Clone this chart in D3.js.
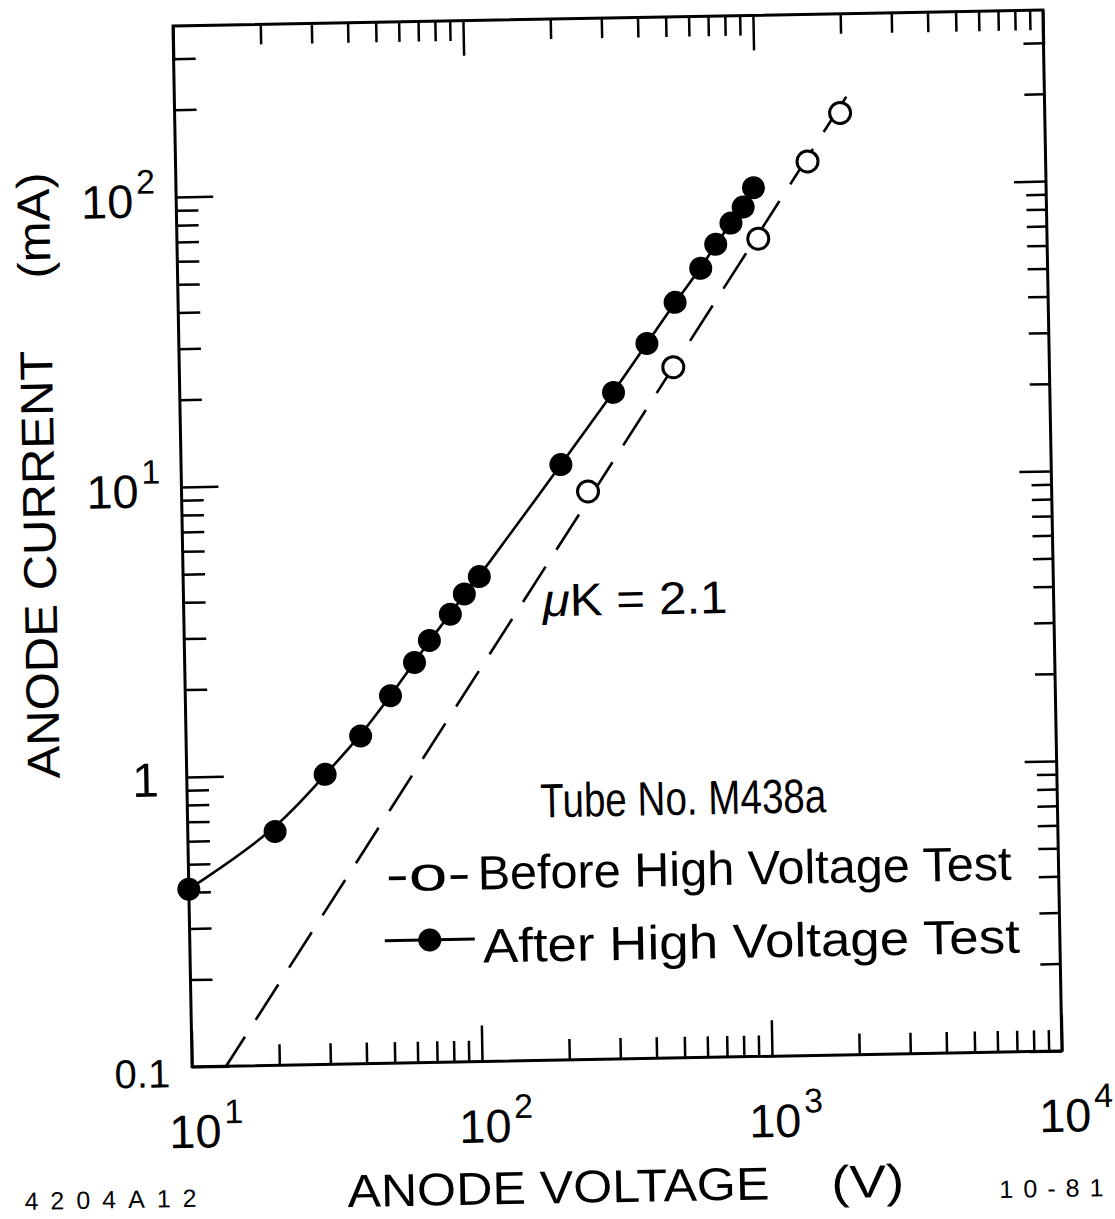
<!DOCTYPE html>
<html><head><meta charset="utf-8">
<script src="https://cdn.jsdelivr.net/npm/d3@7"></script>
<style>body{margin:0;background:#fff}</style>
</head><body>
<svg id="chart" width="1115" height="1219"></svg>
<script>
// ---- data ----
const afterVoltage = [10, 20, 30, 40, 51, 62, 70, 83, 93, 105, 204, 313, 411, 517, 637, 720, 815, 900, 980];
const afterCurrent = [0.41, 0.64, 1.0, 1.35, 1.85, 2.4, 2.85, 3.5, 4.1, 4.7, 11.3, 19.9, 29.2, 40.3, 52.6, 63.5, 75, 85, 99];
const beforeVoltage = [252, 505, 1010, 1510, 1970];
const beforeCurrent = [9.1, 24.1, 66, 121, 177];
const fitVoltage = [13.1, 2260];   // dashed line (muK = 2.1) end points
const fitCurrent = [0.1, 229];
const xDomain = [10, 10000];
const yDomain = [0.1, 389];
const xLabelValues = [10, 100, 1000, 10000];
const xLabelExponents = ["1", "2", "3", "4"];
const yLabelValues = [0.1, 1, 10, 100];
const yLabelBases = ["0.1", "1", "10", "10"];
const yLabelExponents = ["", "", "1", "2"];

const FONT = "'Liberation Sans', Arial, sans-serif";
const svg = d3.select("#chart");
const W = 870, H = 1041;
const g = svg.append("g").attr("transform", "translate(173,26) rotate(-1.05)");
const x = d3.scaleLog().domain(xDomain).range([0, W]);
const y = d3.scaleLog().domain(yDomain).range([H, 0]);

const isMajor = t => Math.abs(Math.log10(t) - Math.round(Math.log10(t))) < 1e-6;
const xt = x.ticks(), yt = y.ticks();
const xMajor = xt.filter(isMajor), xMinor = xt.filter(t => !isMajor(t));
const yMajor = yt.filter(isMajor), yMinor = yt.filter(t => !isMajor(t));

// ---- dashed fit line ----
const fit = fitVoltage.map((v, i) => [v, fitCurrent[i]]);
g.append("path").datum(fit)
  .attr("d", d3.line().x(d => x(d[0])).y(d => y(d[1])))
  .attr("fill", "none").attr("stroke", "#000").attr("stroke-width", 2.6)
  .attr("stroke-dasharray", "42,20").attr("stroke-dashoffset", 7);

// ---- solid curve through "after" points ----
const after = afterVoltage.map((v, i) => [v, afterCurrent[i]]);
g.append("path").datum(after)
  .attr("d", d3.line().x(d => x(d[0])).y(d => y(d[1])).curve(d3.curveBasis))
  .attr("fill", "none").attr("stroke", "#000").attr("stroke-width", 2.6);

// ---- open circles (before) ----
const before = beforeVoltage.map((v, i) => [v, beforeCurrent[i]]);
g.selectAll(".open").data(before).enter().append("circle")
  .attr("cx", d => x(d[0])).attr("cy", d => y(d[1])).attr("r", 10.5)
  .attr("fill", "#fff").attr("stroke", "#000").attr("stroke-width", 3);

// ---- filled circles (after) ----
g.selectAll(".filled").data(after).enter().append("circle")
  .attr("cx", d => x(d[0])).attr("cy", d => y(d[1])).attr("r", 11.5)
  .attr("fill", "#000");

// ---- frame and ticks ----
g.append("rect").attr("x", 0).attr("y", 0).attr("width", W).attr("height", H)
  .attr("fill", "none").attr("stroke", "#000").attr("stroke-width", 3);

function addAxis(axisFn, scale, vals, size, transform) {
  const a = g.append("g").attr("transform", transform)
    .call(axisFn(scale).tickValues(vals).tickSize(-size).tickFormat(""));
  a.select(".domain").remove();
  a.selectAll("text").remove();
  a.selectAll("line").attr("stroke", "#000").attr("stroke-width", 2.5);
}
addAxis(d3.axisBottom, x, xMinor, 21, `translate(0,${H})`);
addAxis(d3.axisBottom, x, xMajor, 36, `translate(0,${H})`);
addAxis(d3.axisTop, x, xMinor, 20, "translate(0,0)");
addAxis(d3.axisTop, x, xMajor, 35, "translate(0,0)");
addAxis(d3.axisLeft, y, yMinor, 22, "translate(0,0)");
addAxis(d3.axisLeft, y, yMajor, 37, "translate(0,0)");
addAxis(d3.axisRight, y, yMinor, 20, `translate(${W},0)`);
addAxis(d3.axisRight, y, yMajor, 32, `translate(${W},0)`);

function txt(str, px, py, size, opts = {}) {
  const t = g.append("text").attr("x", px).attr("y", py)
    .attr("font-family", FONT).attr("font-size", size).attr("fill", "#000")
    .attr("text-anchor", opts.anchor || "start").text(str);
  if (opts.len) t.attr("textLength", opts.len).attr("lengthAdjust", "spacingAndGlyphs");
  if (opts.spacing) t.attr("letter-spacing", opts.spacing);
  if (opts.transform) t.attr("transform", opts.transform);
  return t;
}
// power-of-ten label as ONE text element: base "10" + raised exponent
function powLabel(px, py, exp, anchor) {
  const t = g.append("text").attr("x", px).attr("y", py)
    .attr("font-family", FONT).attr("font-size", 47).attr("fill", "#000")
    .attr("text-anchor", anchor);
  t.append("tspan").text("10");
  t.append("tspan").attr("dx", 3).attr("dy", -24).attr("font-size", 34).text(exp);
  return t;
}

// ---- x tick labels ----
xLabelValues.forEach((v, i) => {
  powLabel(x(v) - 24, H + 81, xLabelExponents[i], "start");
});

// ---- y tick labels ----
yLabelValues.forEach((v, i) => {
  const Y = y(v);
  if (yLabelExponents[i]) {
    powLabel(-21, Y + 20, yLabelExponents[i], "end");
  } else if (yLabelBases[i] === "1") {
    txt("1", -28, Y + 19, 48, { anchor: "end" });
  } else {
    txt(yLabelBases[i], -22, Y + 20, 40, { anchor: "end" });
  }
});

// ---- axis titles ----
txt("ANODE VOLTAGE", 153, 1184, 46, { len: 422 });
txt("(V)", 637, 1184, 46, { len: 73 });
txt("ANODE CURRENT", 0, 0, 46, { anchor: "middle", len: 428, transform: "translate(-127,536) rotate(-90)" });
txt("(mA)", 0, 0, 46, { anchor: "middle", len: 106, transform: "translate(-127,197) rotate(-90)" });

// ---- footnotes ----
txt("4204A12", -170, 1181, 25, { spacing: 12 });
txt("10-81", 805, 1187, 25, { spacing: 10 });

// ---- annotation ----
const mu = g.append("text").attr("x", 359).attr("y", 597).attr("font-family", FONT)
  .attr("font-size", 46).attr("textLength", 185).attr("lengthAdjust", "spacingAndGlyphs");
mu.append("tspan").attr("font-style", "italic").text("μ");
mu.append("tspan").text("K = 2.1");

// ---- legend ----
txt("Tube No. M438a", 353, 798, 48, { len: 286 });
txt("-o-", 197, 869, 48, { len: 85 });
txt("Before High Voltage Test", 289, 869, 48, { len: 534 });
g.append("line").attr("x1", 195).attr("x2", 285).attr("y1", 918.5).attr("y2", 918.5)
  .attr("stroke", "#000").attr("stroke-width", 3);
g.append("circle").attr("cx", 240).attr("cy", 918.5).attr("r", 11.5).attr("fill", "#000");
txt("After High Voltage Test", 293, 942, 48, { len: 537 });
</script>
</body></html>
